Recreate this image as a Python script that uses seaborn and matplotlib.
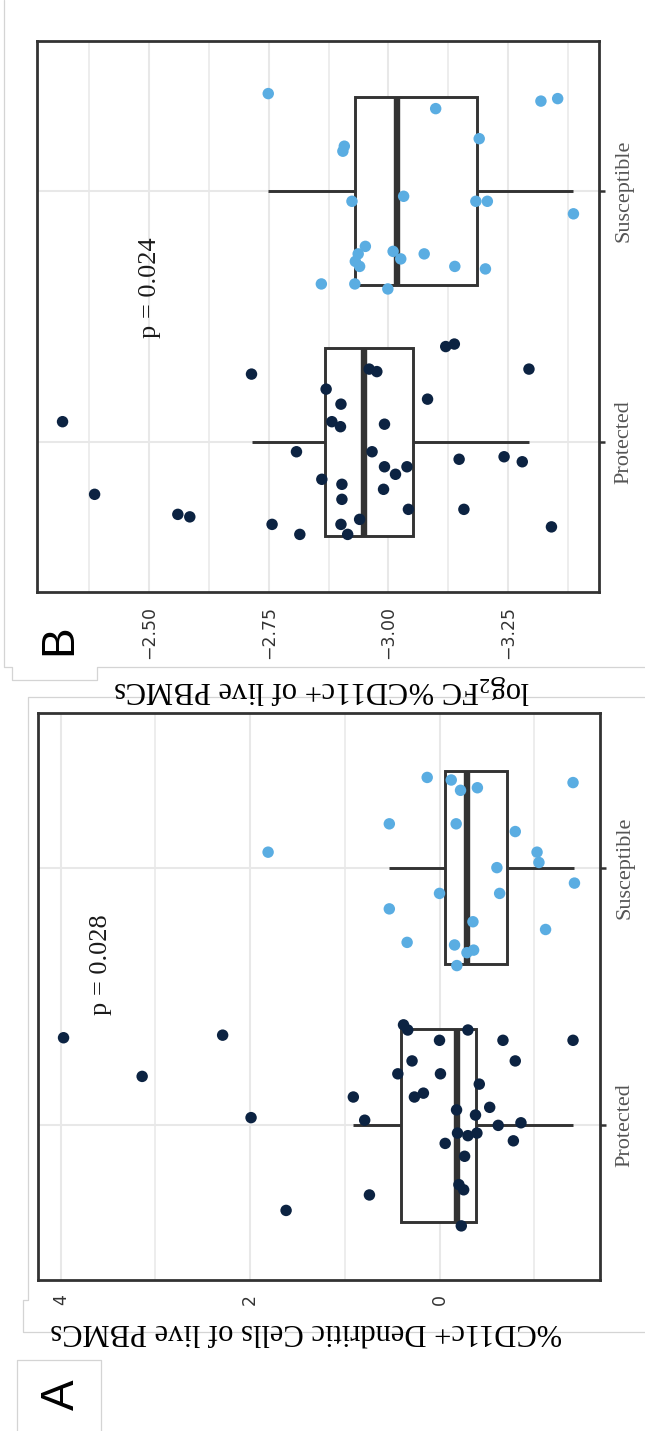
import matplotlib
matplotlib.use("Agg")
import matplotlib.pyplot as plt
from matplotlib.lines import Line2D
from matplotlib.ticker import FixedLocator
import pandas as pd
import seaborn as sns

# ---------------------------------------------------------------- data
groups = ["Susceptible", "Protected"]

# Panel A: %CD11c+ dendritic cells of live PBMCs
a_protected = [3.97, 3.14, 2.29, 1.99, 1.62, 0.38, 0.335, -0.30, 0.00, -0.67,
               -1.41, 0.29, -0.80, 0.44, -0.01, -0.42, 0.91, 0.265, 0.17, -0.18,
               -0.53, 0.79, -0.38, -0.62, -0.86, -0.19, -0.30, -0.395, -0.06, -0.78,
               -0.265, -0.205, -0.255, 0.74, -0.23]
a_protected_jitter = [-0.34, -0.19, -0.35, -0.03, 0.33, -0.39, -0.37, -0.37, -0.33, -0.33,
                      -0.33, -0.25, -0.25, -0.20, -0.20, -0.16, -0.11, -0.11, -0.125, -0.06,
                      -0.07, -0.02, -0.04, 0.00, -0.01, 0.03, 0.04, 0.03, 0.07, 0.06,
                      0.12, 0.23, 0.25, 0.27, 0.39]
a_susceptible = [0.13, -0.124, -0.222, -0.40, -1.41, 0.53, -0.176, -0.80, -1.03, -1.05,
                 -0.606, -1.425, 0.00, -0.635, 0.53, -0.353, -1.12, 0.342, -0.159, -0.29,
                 -0.36, -0.183, 1.81]
a_susceptible_jitter = [-0.35, -0.34, -0.30, -0.31, -0.33, -0.17, -0.17, -0.14, -0.06, -0.02,
                        0.00, 0.06, 0.10, 0.10, 0.16, 0.21, 0.24, 0.29, 0.30, 0.33,
                        0.32, 0.38, -0.06]
a_ticks = [0, 2, 4]
a_tick_labels = ["0", "2", "4"]
a_minor = [-1, 1, 3]
a_title = "%CD11c+ Dendritic Cells of live PBMCs"
a_pvalue = "p = 0.028"

# Panel B: log2 fold change of %CD11c+ of live PBMCs
b_protected = [-3.120, -3.138, -3.294, -2.960, -2.976, -2.870, -3.082, -2.901, -2.882, -2.900,
               -2.992, -2.808, -2.966, -3.148, -3.242, -3.280, -2.992, -3.015, -3.039, -2.861,
               -2.903, -2.990, -2.903, -3.042, -3.158, -2.940, -2.901, -2.915, -2.815, -3.341,
               -2.714, -2.319, -2.386, -2.560, -2.585, -2.757]
b_protected_jitter = [-0.38, -0.39, -0.29, -0.29, -0.28, -0.21, -0.17, -0.15, -0.08, -0.06,
                      -0.07, 0.04, 0.04, 0.07, 0.06, 0.08, 0.10, 0.13, 0.10, 0.15,
                      0.17, 0.19, 0.23, 0.27, 0.27, 0.31, 0.33, 0.37, 0.37, 0.34,
                      -0.27, -0.08, 0.21, 0.29, 0.30, 0.33]
b_susceptible = [-3.319, -3.354, -3.099, -3.190, -2.908, -2.905, -2.924, -3.032, -3.183, -3.207,
                 -3.387, -2.952, -2.937, -2.931, -2.940, -3.010, -3.026, -3.075, -3.139, -3.203,
                 -2.860, -2.930, -2.999, -2.749]
b_susceptible_jitter = [-0.36, -0.37, -0.33, -0.21, -0.18, -0.16, 0.04, 0.02, 0.04, 0.04,
                        0.09, 0.22, 0.25, 0.28, 0.30, 0.24, 0.27, 0.25, 0.30, 0.31,
                        0.37, 0.37, 0.39, -0.39]
b_ticks = [-2.50, -2.75, -3.00, -3.25]
b_tick_labels = ["\u22122.50", "\u22122.75", "\u22123.00", "\u22123.25"]
b_minor = [-2.375, -2.625, -2.875, -3.125, -3.375]
b_title = r"log$_{\mathregular{2}}$FC %CD11c+ of live PBMCs"
b_pvalue = "p = 0.024"

# ---------------------------------------------------------------- style
NAVY = "#0c2342"
SKY = "#5aade2"
INK = "#333333"
GRID = "#e8e8e8"
FRAME = "#d4d4d4"
SERIF = "Liberation Serif"
SANS = "Liberation Sans"

sns.set_style("white")
plt.rcParams["font.family"] = ["DejaVu Sans"]

W, H = 645, 1431
fig = plt.figure(figsize=(W / 100, H / 100), dpi=100)


def px_box(x0, y0, x1, y1):
    """Axes rectangle from pixel edges (origin top-left)."""
    return [x0 / W, 1 - y1 / H, (x1 - x0) / W, (y1 - y0) / H]


def draw_panel(ax, prot, prot_j, sus, sus_j, ticks, tick_labels, minor, pvalue, p_at):
    df = pd.DataFrame({
        "group": ["Protected"] * len(prot) + ["Susceptible"] * len(sus),
        "value": prot + sus,
        "jitter": prot_j + sus_j,
    })
    sns.boxplot(data=df, x="value", y="group", order=groups, orient="h",
                width=0.75, color="white", saturation=1, linecolor=INK,
                linewidth=2.1, showfliers=False, showcaps=False,
                medianprops={"linewidth": 4.6}, ax=ax)
    df["pos"] = df["group"].map({g: i for i, g in enumerate(groups)}) + df["jitter"]
    sns.scatterplot(data=df, x="value", y="pos", hue="group",
                    palette={"Protected": NAVY, "Susceptible": SKY},
                    s=68, linewidth=0, legend=False, ax=ax, zorder=3)

    lo, hi = df["value"].min(), df["value"].max()
    pad = 0.05 * (hi - lo)
    ax.set_xlim(hi + pad, lo - pad)
    ax.set_ylim(1.6, -0.6)

    ax.set_xticks(ticks)
    ax.set_xticklabels(tick_labels)
    ax.xaxis.set_minor_locator(FixedLocator(minor))
    ax.set_yticks(range(len(groups)))
    ax.set_yticklabels(groups)
    ax.yaxis.tick_right()
    ax.set_xlabel("")
    ax.set_ylabel("")

    ax.set_axisbelow(True)
    ax.grid(True, which="major", color=GRID, linewidth=1.5)
    ax.grid(True, which="minor", axis="x", color=GRID, linewidth=1.1)
    for sp in ax.spines.values():
        sp.set_visible(True)
        sp.set_color(INK)
        sp.set_linewidth(2.0)

    ax.tick_params(axis="x", which="major", direction="out", length=4, width=1.8,
                   color=INK, labelcolor=INK, labelsize=12.5, pad=6, labelrotation=90)
    ax.tick_params(axis="x", which="minor", length=0)
    ax.tick_params(axis="y", which="major", direction="out", length=4, width=1.8,
                   color=INK, labelcolor="#555555", pad=7, labelrotation=90,
                   left=False, right=True, labelleft=False, labelright=True)
    for lab in ax.get_yticklabels():
        lab.set_fontfamily(SERIF)
        lab.set_fontsize(16)
        lab.set_va("center")

    ax.text(p_at[0], p_at[1], pvalue, rotation=90, ha="center", va="center",
            family=SERIF, fontsize=19, color="#1a1a1a")


axB = fig.add_axes(px_box(37, 41, 599, 592))
draw_panel(axB, b_protected, b_protected_jitter, b_susceptible, b_susceptible_jitter,
           b_ticks, b_tick_labels, b_minor, b_pvalue, (-2.502, 0.385))

axA = fig.add_axes(px_box(38, 713, 600, 1280))
draw_panel(axA, a_protected, a_protected_jitter, a_susceptible, a_susceptible_jitter,
           a_ticks, a_tick_labels, a_minor, a_pvalue, (3.57, 0.377))

# axis titles, drawn upside down beneath each panel
fig.text(322 / W, 1 - 690 / H, b_title, rotation=180, ha="center", va="center",
         family=SERIF, fontsize=22, color="black")
fig.text(306 / W, 1 - 1331 / H, a_title, rotation=180, ha="center", va="center",
         family=SERIF, fontsize=22, color="black")

# panel letters
fig.text(59 / W, 1 - 640 / H, "B", rotation=90, ha="center", va="center",
         family=SANS, fontsize=33, color="black")
fig.text(62 / W, 1 - 1395 / H, "A", rotation=90, ha="center", va="center",
         family=SANS, fontsize=33, color="black")


def frame_line(xs, ys):
    fig.add_artist(Line2D([x / W for x in xs], [1 - y / H for y in ys],
                          transform=fig.transFigure, color=FRAME, linewidth=0.9))


# light frames around each panel's sheet and around the letter A
frame_line([4, 4, 12, 12, 97, 97, 645], [0, 667, 667, 680, 680, 667, 667])
frame_line([645, 28, 28, 23, 23, 645], [697, 697, 1300, 1300, 1332, 1332])
frame_line([17, 17, 101, 101], [1431, 1360, 1360, 1431])

fig.savefig("out.png", dpi=100)
